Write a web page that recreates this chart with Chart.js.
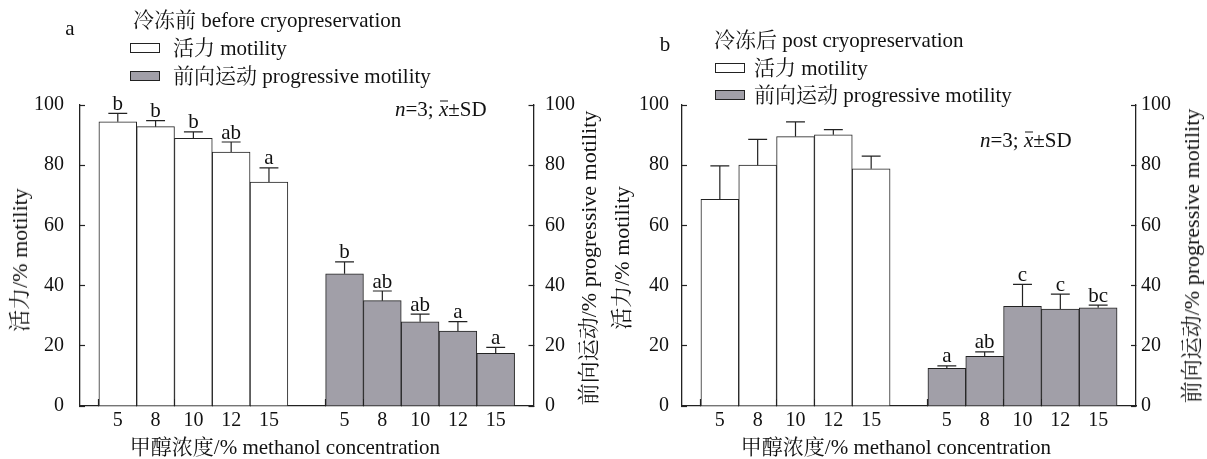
<!DOCTYPE html>
<html><head><meta charset="utf-8">
<script src="https://cdn.jsdelivr.net/npm/chart.js@4.4.1/dist/chart.umd.min.js"></script>
<style>
body{margin:0;background:#fff;width:1207px;height:459px;overflow:hidden;position:relative;font-family:'Liberation Serif','Noto Serif CJK SC','Noto Sans CJK SC',serif;color:#111;}
canvas{position:absolute;top:0;}
.t{position:absolute;white-space:nowrap;font-size:21px;line-height:1;transform:translateY(-50%);}
.c{position:absolute;white-space:nowrap;font-size:21px;line-height:1;transform:translate(-50%,-50%);}
.r{position:absolute;white-space:nowrap;font-size:22px;line-height:1;transform:translate(-50%,-50%) rotate(-90deg);}
.box{position:absolute;width:28px;height:8px;border:1px solid #222;background:#fff;}
.box.g{background:#a19fa8;}
.xb{position:relative;font-style:italic;}
.xb::after{content:'';position:absolute;left:1px;right:0;top:4px;border-top:1px solid #111;}
</style></head>
<body>
<canvas id="cA" width="603" height="459" style="left:0;width:603px;height:459px"></canvas>
<canvas id="cB" width="604" height="459" style="left:603px;width:604px;height:459px"></canvas>

<div class="c" style="left:70px;top:28px">a</div>
<div class="t" style="left:133px;top:20px">冷冻前 before cryopreservation</div>
<div class="box" style="left:130px;top:43px"></div>
<div class="t" style="left:173px;top:48px">活力 motility</div>
<div class="box g" style="left:130px;top:71px"></div>
<div class="t" style="left:173px;top:76px">前向运动 progressive motility</div>
<div class="t" style="left:395px;top:109px"><i>n</i>=3; <span class="xb">x</span>±SD</div>
<div class="r" style="left:20px;top:260px">活力/% motility</div>
<div class="r" style="left:589px;top:258px">前向运动/% progressive motility</div>
<div class="c" style="left:285px;top:447px">甲醇浓度/% methanol concentration</div>

<div class="c" style="left:665px;top:44px">b</div>
<div class="t" style="left:714px;top:40px">冷冻后 post cryopreservation</div>
<div class="box" style="left:715px;top:63px"></div>
<div class="t" style="left:754px;top:68px">活力 motility</div>
<div class="box g" style="left:715px;top:90px"></div>
<div class="t" style="left:754px;top:95px">前向运动 progressive motility</div>
<div class="t" style="left:980px;top:140px"><i>n</i>=3; <span class="xb">x</span>±SD</div>
<div class="r" style="left:622px;top:258px">活力/% motility</div>
<div class="r" style="left:1192px;top:256px">前向运动/% progressive motility</div>
<div class="c" style="left:896px;top:447px">甲醇浓度/% methanol concentration</div>

<script>
const concentrations = ['5', '8', '10', '12', '15'];
const yTicks = [0, 20, 40, 60, 80, 100];

const motilityBefore = [94.4, 92.8, 88.9, 84.4, 74.4];
const motilityBeforeSD = [2.8, 2.0, 2.2, 3.3, 4.7];
const motilityBeforeLetters = ['b', 'b', 'b', 'ab', 'a'];
const progressiveBefore = [43.9, 35.0, 28.0, 24.9, 17.5];
const progressiveBeforeSD = [4.0, 3.2, 2.5, 3.1, 2.0];
const progressiveBeforeLetters = ['b', 'ab', 'ab', 'a', 'a'];

const motilityPost = [68.7, 80.0, 89.5, 90.1, 78.8];
const motilityPostSD = [11.1, 8.6, 4.9, 1.7, 4.2];
const motilityPostLetters = ['', '', '', '', ''];
const progressivePost = [12.5, 16.5, 33.1, 32.2, 32.6];
const progressivePostSD = [0.8, 1.5, 7.3, 5.0, 0.9];
const progressivePostLetters = ['a', 'ab', 'c', 'c', 'bc'];

const xLabels = [''].concat(concentrations, [''], concentrations, ['']);
const n = concentrations.length;
function firstGroup(arr) { return [null].concat(arr, [null], new Array(n).fill(null), [null]); }
function secondGroup(arr) { return [null].concat(new Array(n).fill(null), [null], arr, [null]); }

const FONT = "'Liberation Serif','Noto Serif CJK SC','Noto Sans CJK SC',serif";
const INK = '#222';

const errPlugin = {
  id: 'errLetters',
  afterDatasetsDraw(chart) {
    const ctx = chart.ctx;
    const ys = chart.scales.y;
    ctx.save();
    chart.data.datasets.forEach((ds, di) => {
      const meta = chart.getDatasetMeta(di);
      ds.data.forEach((v, i) => {
        if (v == null) return;
        const bar = meta.data[i];
        const top = ys.getPixelForValue(v + ds.sd[i]);
        const half = bar.width / 4;
        ctx.strokeStyle = INK;
        ctx.lineWidth = 1.2;
        ctx.beginPath();
        ctx.moveTo(bar.x, bar.y);
        ctx.lineTo(bar.x, top);
        ctx.moveTo(bar.x - half, top);
        ctx.lineTo(bar.x + half, top);
        ctx.stroke();
        const lt = ds.letters[i];
        if (lt) {
          ctx.fillStyle = '#111';
          ctx.font = '21px ' + FONT;
          ctx.textAlign = 'center';
          ctx.textBaseline = 'alphabetic';
          ctx.fillText(lt, bar.x, top - 3.5);
        }
      });
    });
    ctx.restore();
  }
};

function makeChart(id, mot, motSD, motLet, prog, progSD, progLet, g) {
  const tickColorX = (c) => (xLabels[c.index] === '' ? 'rgba(0,0,0,0)' : INK);
  return new Chart(document.getElementById(id), {
    type: 'bar',
    data: {
      labels: xLabels,
      datasets: [
        { data: firstGroup(mot), sd: firstGroup(motSD), letters: firstGroup(motLet),
          backgroundColor: '#ffffff', borderColor: INK, borderWidth: 1, grouped: false,
          categoryPercentage: 1, barPercentage: 1 },
        { data: secondGroup(prog), sd: secondGroup(progSD), letters: secondGroup(progLet),
          backgroundColor: '#a19fa8', borderColor: INK, borderWidth: 1, grouped: false,
          categoryPercentage: 1, barPercentage: 1 }
      ]
    },
    options: {
      responsive: false, animation: false, devicePixelRatio: 1,
      layout: { padding: { top: 105, left: 0, right: 0, bottom: 0 } },
      plugins: { legend: { display: false }, tooltip: { enabled: false } },
      scales: {
        x: {
          type: 'category', offset: false,
          grid: { display: true, drawOnChartArea: false, drawTicks: true, tickLength: -7, tickColor: tickColorX, tickWidth: 1.2 },
          border: { display: true, color: INK, width: 1.3 },
          ticks: { autoSkip: false, maxRotation: 0, padding: 10, color: '#111', font: { family: FONT, size: 20 } },
          afterFit(s) { s.height = 53; s.paddingLeft = 0; s.paddingRight = 0; }
        },
        y: {
          position: 'left', min: 0, max: 100,
          afterBuildTicks(s) { s.ticks = yTicks.map(v => ({ value: v })); },
          grid: { drawOnChartArea: false, drawTicks: true, tickLength: -5, tickColor: INK, tickWidth: 1.2 },
          border: { display: true, color: INK, width: 1.3 },
          ticks: { padding: g.yPad, color: '#111', font: { family: FONT, size: 20 } },
          afterFit(s) { s.width = g.yWidth; s.paddingTop = 0; s.paddingBottom = 0; }
        },
        y2: {
          position: 'right', min: 0, max: 100,
          afterBuildTicks(s) { s.ticks = yTicks.map(v => ({ value: v })); },
          grid: { drawOnChartArea: false, drawTicks: true, tickLength: -5, tickColor: INK, tickWidth: 1.2 },
          border: { display: true, color: INK, width: 1.3 },
          ticks: { padding: g.y2Pad, color: '#111', font: { family: FONT, size: 20 } },
          afterFit(s) { s.width = g.y2Width; s.paddingTop = 0; s.paddingBottom = 0; }
        }
      }
    },
    plugins: [errPlugin]
  });
}

makeChart('cA', motilityBefore, motilityBeforeSD, motilityBeforeLetters,
  progressiveBefore, progressiveBeforeSD, progressiveBeforeLetters,
  { yWidth: 80, y2Width: 69.5, yPad: 21, y2Pad: 16.5 });
makeChart('cB', motilityPost, motilityPostSD, motilityPostLetters,
  progressivePost, progressivePostSD, progressivePostLetters,
  { yWidth: 79, y2Width: 71, yPad: 18, y2Pad: 10 });
</script>
</body></html>
